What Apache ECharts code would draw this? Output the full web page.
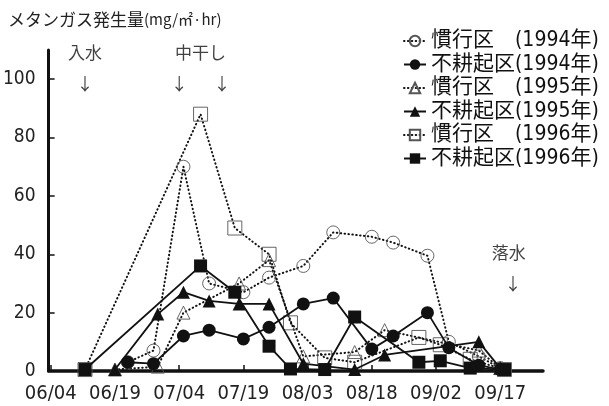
<!DOCTYPE html>
<html>
<head>
<meta charset="utf-8">
<script src="https://cdn.jsdelivr.net/npm/echarts@6/dist/echarts.min.js"></script>
<style>
  html, body { margin: 0; padding: 0; background: #fff; }
  #chart { width: 609px; height: 406px; }
</style>
</head>
<body>
<div id="chart"></div>
<script>
// Axis ticks
const xTickDates = ['06/04', '06/19', '07/04', '07/19', '08/03', '08/18', '09/02', '09/17'];
const yTicks = [0, 20, 40, 60, 80, 100];

// Legend names
const seriesNames = [
  '慣行区\u3000(1994年)', '不耕起区(1994年)',
  '慣行区\u3000(1995年)', '不耕起区(1995年)',
  '慣行区\u3000(1996年)', '不耕起区(1996年)'
];

// 1994: sampling dates and methane flux (mg/m2/hr)
const dates1994 = ['06/22', '06/28', '07/05', '07/11', '07/19', '07/25', '08/02', '08/09', '08/18', '08/23', '08/31', '09/05', '09/12', '09/17'];
const kanko1994 = [3, 7, 70, 30, 27, 32, 36, 47.5, 46, 44, 39.5, 10, 5, 1];
const fukouki1994 = [3, 2.5, 12, 14, 11, 15, 23, 25, 7.5, 12, 20, 8, 2, 0.5];

// 1995
const datesKanko1995 = ['06/19', '06/29', '07/05', '07/18', '07/25', '08/02', '08/14', '08/21', '09/12', '09/17'];
const kanko1995 = [0.5, 1.5, 20, 30, 38, 5, 6.5, 14, 7, 1];
const datesFukouki1995 = ['06/19', '06/29', '07/05', '07/11', '07/18', '07/25', '08/02', '08/14', '08/21', '09/12', '09/17'];
const fukouki1995 = [0.5, 19.5, 27, 24, 23, 23, 2.5, 0.5, 5.5, 10, 1];

// 1996
const dates1996 = ['06/12', '07/09', '07/17', '07/25', '07/30', '08/07', '08/14', '08/29', '09/03', '09/10', '09/18'];
const kanko1996 = [0.5, 88, 49, 40, 16.5, 4.5, 3, 11.5, 9, 4, 0.5];
const fukouki1996 = [0.5, 36, 27, 8.5, 0.7, 0.5, 18.5, 3, 3.5, 1, 0.5];

// Water management events
const eventNames = ['入水', '中干し', '落水'];
const eventNameDates = ['06/12', '07/09', '09/19'];
const arrowDates = ['06/12', '07/04', '07/14', '09/20'];

// Days counted from 06/04
const monthStart = { 6: -4, 7: 26, 8: 57, 9: 88 };
function dayOf(s) {
  const [m, d] = s.split('/').map(Number);
  return monthStart[m] + d;
}
function dateOf(n) {
  let m = 9;
  while (m > 6 && n <= monthStart[m]) m--;
  const d = n - monthStart[m];
  return String(m).padStart(2, '0') + '/' + String(d).padStart(2, '0');
}

const NARROW = "'Liberation Sans Narrow', 'DejaVu Sans', 'Noto Sans CJK JP', sans-serif";
const CJK = "'Noto Sans CJK JP', sans-serif";
const INK = '#111';
// font-stretch keyword rides along in the canvas font shorthand
const CONDENSED = 'normal condensed';

const dotted = { color: INK, width: 2, type: [0.5, 3.4], cap: 'round' };
const solid = { color: INK, width: 1.8 };
const openMark = { color: 'rgba(255,255,255,0)', borderColor: '#555', borderWidth: 0.9 };
const fillMark = { color: INK, borderColor: INK, borderWidth: 0 };

function lineSeries(name, dates, values, symbol, size, isOpen) {
  return {
    name: name,
    type: 'line',
    data: dates.map((d, i) => [dayOf(d), values[i]]),
    symbol: symbol,
    symbolSize: size,
    showAllSymbol: true,
    lineStyle: isOpen ? dotted : solid,
    itemStyle: isOpen ? openMark : fillMark,
    emphasis: { disabled: true },
    animation: false,
    z: isOpen ? 2 : 3
  };
}

const series = [
  lineSeries(seriesNames[0], dates1994, kanko1994, 'circle', 13, true),
  lineSeries(seriesNames[1], dates1994, fukouki1994, 'circle', 13, false),
  lineSeries(seriesNames[2], datesKanko1995, kanko1995, 'triangle', 13, true),
  lineSeries(seriesNames[3], datesFukouki1995, fukouki1995, 'triangle', 13, false),
  lineSeries(seriesNames[4], dates1996, kanko1996, 'rect', 14, true),
  lineSeries(seriesNames[5], dates1996, fukouki1996, 'rect', 13, false),
  {
    // event labels and arrows
    type: 'scatter',
    silent: true,
    symbolSize: 0,
    animation: false,
    label: {
      show: true,
      position: 'inside',
      formatter: p => p.name,
      color: INK,
      fontFamily: CJK,
      fontSize: 17
    },
    data: eventNames.map((n, i) => ({ name: n, value: [dayOf(eventNameDates[i]), i < 2 ? 109 : 40.5] }))
      .concat(arrowDates.map((d, i) => ({ name: '↓', value: [dayOf(d), i < 3 ? 98.5 : 30] })))
  }
];

const chart = echarts.init(document.getElementById('chart'), null, { renderer: 'canvas' });
chart.setOption({
  backgroundColor: '#fff',
  animation: false,
  title: {
    text: 'メタンガス発生量{u|(mg/㎡·hr)}',
    left: 3,
    top: 6,
    textStyle: {
      fontFamily: CJK,
      fontSize: 17,
      fontWeight: 'normal',
      color: '#222',
      rich: { u: { fontFamily: CJK, fontSize: 15, color: '#222' } }
    }
  },
  legend: {
    data: seriesNames,
    orient: 'vertical',
    left: 398,
    top: 25,
    itemWidth: 22,
    itemHeight: 13,
    itemGap: 1.5,
    selectedMode: false,
    textStyle: { fontFamily: NARROW, fontWeight: CONDENSED, fontSize: 21, color: INK, lineHeight: 22 }
  },
  grid: { left: 47, right: 66, top: 50, bottom: 35, containLabel: false },
  xAxis: {
    type: 'value',
    min: -0.5,
    max: 115,
    splitLine: { show: false },
    axisLine: { show: true, onZero: false, lineStyle: { color: INK, width: 3.5 } },
    axisTick: { show: true, inside: true, length: 6, lineStyle: { color: INK, width: 1.5 }, customValues: xTickDates.map(dayOf) },
    axisLabel: {
      customValues: xTickDates.map(dayOf),
      formatter: v => dateOf(v),
      fontFamily: NARROW,
      fontWeight: CONDENSED,
      fontSize: 20,
      color: '#222',
      margin: 13
    }
  },
  yAxis: {
    type: 'value',
    min: 0,
    max: 110,
    splitLine: { show: false },
    axisLine: { show: true, onZero: false, lineStyle: { color: INK, width: 3 } },
    axisTick: { show: true, inside: true, length: 6, lineStyle: { color: INK, width: 1.5 }, customValues: yTicks },
    axisLabel: {
      customValues: yTicks,
      fontFamily: NARROW,
      fontWeight: CONDENSED,
      fontSize: 19,
      color: '#222',
      margin: 13
    }
  },
  series: series
});
</script>
</body>
</html>
